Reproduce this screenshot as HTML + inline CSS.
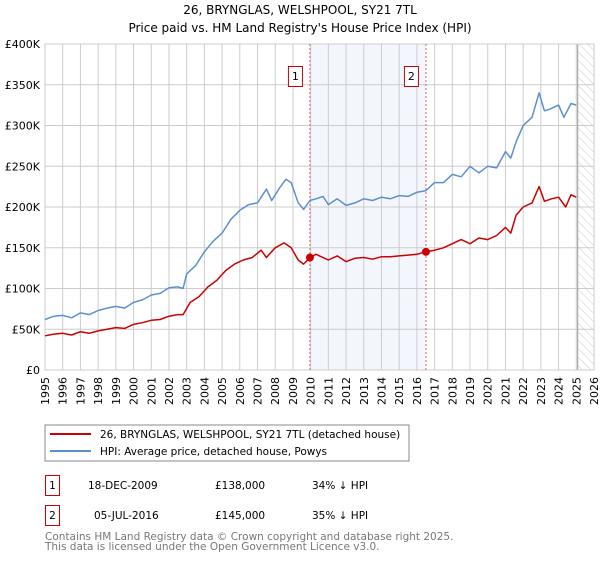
<!DOCTYPE html>
<html><head><meta charset="utf-8"><style>
body{margin:0;background:#fff;font-family:"DejaVu Sans","Liberation Sans",sans-serif;}
svg text{font-family:"DejaVu Sans","Liberation Sans",sans-serif;}
</style></head><body>
<svg id="chart" width="600" height="560" xmlns="http://www.w3.org/2000/svg">
<defs><pattern id="hatch" width="6" height="6" patternUnits="userSpaceOnUse" patternTransform="rotate(-45)"><line x1="0" y1="0" x2="0" y2="6" stroke="#ccc" stroke-width="1"/></pattern></defs>
<text x="300" y="14" text-anchor="middle" font-size="12" fill="#000">26, BRYNGLAS, WELSHPOOL, SY21 7TL</text>
<text x="300" y="32" text-anchor="middle" font-size="12" fill="#000">Price paid vs. HM Land Registry's House Price Index (HPI)</text>
<g id="plot"></g>
<rect x="45" y="425" width="364" height="36" fill="#fff" stroke="#888"/>
<line x1="50" y1="434" x2="91" y2="434" stroke="#cc0000" stroke-width="2"/>
<text x="100" y="438" font-size="10.5">26, BRYNGLAS, WELSHPOOL, SY21 7TL (detached house)</text>
<line x1="50" y1="451" x2="91" y2="451" stroke="#5b8fd0" stroke-width="2"/>
<text x="100" y="455" font-size="10.5">HPI: Average price, detached house, Powys</text>
<g>
<rect x="45.5" y="475.5" width="14" height="20" fill="none" stroke="#cc0000"/>
<text x="52.5" y="489" text-anchor="middle" font-size="10.5">1</text>
<text x="88" y="489" font-size="10.5">18-DEC-2009</text>
<text x="215" y="489" font-size="10.5">£138,000</text>
<text x="312" y="489" font-size="10.5">34% ↓ HPI</text></g>
<g>
<rect x="45.5" y="505.5" width="14" height="20" fill="none" stroke="#cc0000"/>
<text x="52.5" y="519" text-anchor="middle" font-size="10.5">2</text>
<text x="94" y="519" font-size="10.5">05-JUL-2016</text>
<text x="215" y="519" font-size="10.5">£145,000</text>
<text x="312" y="519" font-size="10.5">35% ↓ HPI</text></g>
<text x="45" y="540" font-size="10.5" fill="#777">Contains HM Land Registry data © Crown copyright and database right 2025.</text>
<text x="45" y="550" font-size="10.5" fill="#777">This data is licensed under the Open Government Licence v3.0.</text>
</svg>
<script>
const hpiYears=[1995,1995.5,1996,1996.5,1997,1997.5,1998,1998.5,1999,1999.5,2000,2000.5,2001,2001.5,2002,2002.5,2002.8,2003,2003.5,2004,2004.5,2005,2005.5,2006,2006.5,2007,2007.5,2007.8,2008.2,2008.6,2008.9,2009.3,2009.6,2009.96,2010.3,2010.7,2011,2011.5,2012,2012.5,2013,2013.5,2014,2014.5,2015,2015.5,2016,2016.5,2017,2017.5,2018,2018.5,2019,2019.5,2020,2020.5,2021,2021.3,2021.6,2022,2022.5,2022.9,2023.2,2023.5,2024,2024.3,2024.7,2025];
const hpiValues=[62,66,67,64,70,68,73,76,78,76,83,86,92,94,101,102,100,118,128,145,158,168,185,196,203,205,222,208,222,234,230,205,197,208,210,213,203,210,202,205,210,208,212,210,214,213,218,220,230,230,240,237,250,242,250,248,268,260,280,300,310,340,318,320,325,310,327,325];
const priceYears=[1995,1995.5,1996,1996.5,1997,1997.5,1998,1998.5,1999,1999.5,2000,2000.5,2001,2001.5,2002,2002.5,2002.8,2003.2,2003.7,2004.2,2004.7,2005.2,2005.7,2006.2,2006.7,2007.2,2007.5,2008,2008.5,2008.9,2009.3,2009.6,2009.96,2010.3,2011,2011.5,2012,2012.5,2013,2013.5,2014,2014.5,2015,2015.5,2016,2016.5,2017,2017.5,2018,2018.5,2019,2019.5,2020,2020.5,2021,2021.3,2021.6,2022,2022.5,2022.9,2023.2,2023.6,2024,2024.4,2024.7,2025];
const priceValues=[42,44,45,43,47,45,48,50,52,51,56,58,61,62,66,68,68,83,90,102,110,122,130,135,138,147,138,150,156,150,135,130,138,142,135,140,133,137,138,136,139,139,140,141,142,145,147,150,155,160,155,162,160,165,175,168,190,200,205,225,207,210,212,200,215,212];
const saleYears=[2009.96,2016.51];
const saleValues=[138,145];
const saleLabels=["1","2"];
const yTicks=[0,50,100,150,200,250,300,350,400];
const yTickLabels=["£0","£50K","£100K","£150K","£200K","£250K","£300K","£350K","£400K"];
const xTicks=[1995,1996,1997,1998,1999,2000,2001,2002,2003,2004,2005,2006,2007,2008,2009,2010,2011,2012,2013,2014,2015,2016,2017,2018,2019,2020,2021,2022,2023,2024,2025,2026];
const X0=45,X1=594,Y0=370,Y1=44,xmin=1995,xmax=2026,ymax=400,hatchStart=2025.08;
const xs=v=>X0+(v-xmin)/(xmax-xmin)*(X1-X0);
const ys=v=>Y0-v/ymax*(Y0-Y1);
const NS="http://www.w3.org/2000/svg";
const g=document.getElementById('plot');
function mk(t,a,p){const e=document.createElementNS(NS,t);for(const k in a)e.setAttribute(k,a[k]);(p||g).appendChild(e);return e;}
let e;
e=mk('rect',{x:xs(saleYears[0]),y:Y1,width:xs(saleYears[1])-xs(saleYears[0]),height:Y0-Y1,fill:'#eef3fc',opacity:0.7});


yTicks.forEach((t,i)=>{
 e=mk('line',{x1:X0,x2:X1,y1:ys(t),y2:ys(t),stroke:'#ccc','stroke-width':1});
 
 
 e=mk('text',{x:40,y:ys(t)+4,'text-anchor':'end','font-size':11});
 e.textContent=yTickLabels[i];
 
 
});
xTicks.forEach(t=>{
 e=mk('line',{x1:xs(t),x2:xs(t),y1:Y1,y2:Y0,stroke:'#ccc','stroke-width':1});
 
 
 e=mk('text',{x:0,y:0,'text-anchor':'end','font-size':11,transform:`translate(${xs(t)+4},${Y0+7}) rotate(-90)`});
 e.textContent=t;
 
 
});
e=mk('rect',{x:xs(hatchStart),y:Y1,width:X1-xs(hatchStart),height:Y0-Y1,fill:'url(#hatch)'});


e=mk('line',{x1:xs(hatchStart),x2:xs(hatchStart),y1:Y1,y2:Y0,stroke:'#999','stroke-width':1});


e=mk('rect',{x:X0,y:Y1,width:X1-X0,height:Y0-Y1,fill:'none',stroke:'#ccc'});


saleYears.forEach((s,i)=>{
 e=mk('line',{x1:xs(s),x2:xs(s),y1:Y1,y2:Y0,stroke:'#e06060','stroke-width':1,'stroke-dasharray':'2,2'});
 
 
 const bg=mk('g',{});
 
 
 mk('rect',{x:xs(s)-21.5,y:66.5,width:14,height:20,fill:'#fff',stroke:'#cc0000'},bg);
 const tt=mk('text',{x:xs(s)-14.5,y:80,'text-anchor':'middle','font-size':11},bg);
 tt.textContent=saleLabels[i];
});
function line(xa,va,col,name){
 const d=xa.map((x,i)=>(i?'L':'M')+xs(x).toFixed(1)+','+ys(va[i]).toFixed(1)).join('');
 const p=mk('path',{d:d,fill:'none',stroke:col,'stroke-width':1.5,'stroke-linejoin':'round'});
 
 
}
line(hpiYears,hpiValues,'#5b8fd0','hpi-line');
line(priceYears,priceValues,'#cc0000','price-line');
saleYears.forEach((s,i)=>{
 e=mk('circle',{cx:xs(s),cy:ys(saleValues[i]),r:4,fill:'#cc0000'});
 
 
});
</script>
</body></html>
